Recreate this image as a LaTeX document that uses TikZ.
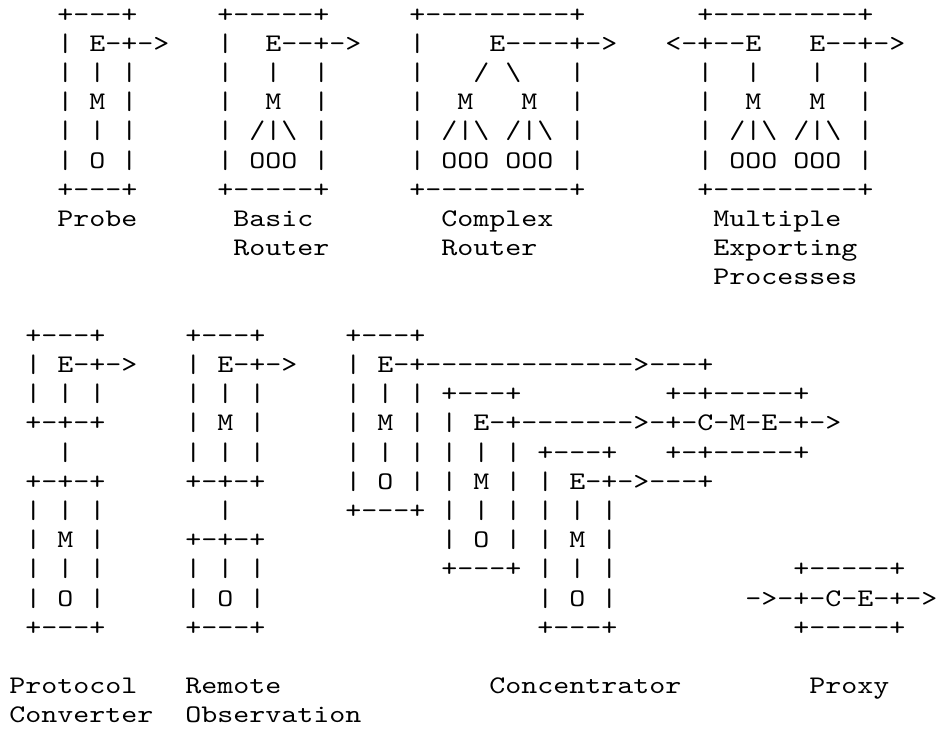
\documentclass[tikz,border=0pt]{standalone}
\usepackage{fontspec}
\usepackage{tikz}
\newfontfamily\asciifont{lmmono10-regular.otf}[FakeStretch=1.203,Ligatures=TeXOff]
\newcommand{\bs}{\textbackslash}

\begin{document}
\begin{tikzpicture}[x=12pt, y=-21.9pt,
    asc/.style={anchor=base west, inner sep=0pt, font={\asciifont\fontsize{19pt}{21.9pt}\selectfont}}]
		\useasboundingbox (-0.5625,-0.7534) rectangle (58,24.2123);
		% probe
		\node[asc] (pr1) at (3,0) {+---+};
		\node[asc] (pr2a) at (3,1) {|}; \node[asc] (pr2e) at (5,1) {E-+->};
		\node[asc] (pr3a) at (3,2) {|}; \node[asc] (pr3b) at (5,2) {|}; \node[asc] (pr3c) at (7,2) {|};
		\node[asc] (pr4a) at (3,3) {|}; \node[asc] (pr4m) at (5,3) {M}; \node[asc] (pr4b) at (7,3) {|};
		\node[asc] (pr5a) at (3,4) {|}; \node[asc] (pr5b) at (5,4) {|}; \node[asc] (pr5c) at (7,4) {|};
		\node[asc] (pr6a) at (3,5) {|}; \node[asc] (pr6o) at (5,5) {O}; \node[asc] (pr6b) at (7,5) {|};
		\node[asc] (pr7) at (3,6) {+---+};
		\node[asc] (prl) at (3,7) {Probe};
		% basic router
		\node[asc] (br1) at (13,0) {+-----+};
		\node[asc] (br2a) at (13,1) {|}; \node[asc] (br2e) at (16,1) {E--+->};
		\node[asc] (br3a) at (13,2) {|}; \node[asc] (br3b) at (16,2) {|}; \node[asc] (br3c) at (19,2) {|};
		\node[asc] (br4a) at (13,3) {|}; \node[asc] (br4m) at (16,3) {M}; \node[asc] (br4b) at (19,3) {|};
		\node[asc] (br5a) at (13,4) {|}; \node[asc] (br5m) at (15,4) {/|\bs}; \node[asc] (br5b) at (19,4) {|};
		\node[asc] (br6a) at (13,5) {|}; \node[asc] (br6o) at (15,5) {OOO}; \node[asc] (br6b) at (19,5) {|};
		\node[asc] (br7) at (13,6) {+-----+};
		\node[asc] (brl1) at (14,7) {Basic};
		\node[asc] (brl2) at (14,8) {Router};
		% complex router
		\node[asc] (cr1) at (25,0) {+---------+};
		\node[asc] (cr2a) at (25,1) {|}; \node[asc] (cr2e) at (30,1) {E----+->};
		\node[asc] (cr3a) at (25,2) {|}; \node[asc] (cr3l) at (29,2) {/}; \node[asc] (cr3r) at (31,2) {\bs}; \node[asc] (cr3b) at (35,2) {|};
		\node[asc] (cr4a) at (25,3) {|}; \node[asc] (cr4m) at (28,3) {M}; \node[asc] (cr4n) at (32,3) {M}; \node[asc] (cr4b) at (35,3) {|};
		\node[asc] (cr5a) at (25,4) {|}; \node[asc] (cr5m) at (27,4) {/|\bs}; \node[asc] (cr5n) at (31,4) {/|\bs}; \node[asc] (cr5b) at (35,4) {|};
		\node[asc] (cr6a) at (25,5) {|}; \node[asc] (cr6o) at (27,5) {OOO}; \node[asc] (cr6p) at (31,5) {OOO}; \node[asc] (cr6b) at (35,5) {|};
		\node[asc] (cr7) at (25,6) {+---------+};
		\node[asc] (crl1) at (27,7) {Complex};
		\node[asc] (crl2) at (27,8) {Router};
		% multiple exporting processes
		\node[asc] (mx1) at (43,0) {+---------+};
		\node[asc] (mx2e) at (41,1) {<-+--E}; \node[asc] (mx2f) at (50,1) {E--+->};
		\node[asc] (mx3a) at (43,2) {|}; \node[asc] (mx3b) at (46,2) {|}; \node[asc] (mx3c) at (50,2) {|}; \node[asc] (mx3d) at (53,2) {|};
		\node[asc] (mx4a) at (43,3) {|}; \node[asc] (mx4m) at (46,3) {M}; \node[asc] (mx4n) at (50,3) {M}; \node[asc] (mx4b) at (53,3) {|};
		\node[asc] (mx5a) at (43,4) {|}; \node[asc] (mx5m) at (45,4) {/|\bs}; \node[asc] (mx5n) at (49,4) {/|\bs}; \node[asc] (mx5b) at (53,4) {|};
		\node[asc] (mx6a) at (43,5) {|}; \node[asc] (mx6o) at (45,5) {OOO}; \node[asc] (mx6p) at (49,5) {OOO}; \node[asc] (mx6b) at (53,5) {|};
		\node[asc] (mx7) at (43,6) {+---------+};
		\node[asc] (mxl1) at (44,7) {Multiple};
		\node[asc] (mxl2) at (44,8) {Exporting};
		\node[asc] (mxl3) at (44,9) {Processes};
		% protocol converter
		\node[asc] (pc1) at (1,11) {+---+};
		\node[asc] (pc2a) at (1,12) {|}; \node[asc] (pc2e) at (3,12) {E-+->};
		\node[asc] (pc3a) at (1,13) {|}; \node[asc] (pc3b) at (3,13) {|}; \node[asc] (pc3c) at (5,13) {|};
		\node[asc] (pc4) at (1,14) {+-+-+};
		\node[asc] (pc5) at (3,15) {|};
		\node[asc] (pc6) at (1,16) {+-+-+};
		\node[asc] (pc7a) at (1,17) {|}; \node[asc] (pc7b) at (3,17) {|}; \node[asc] (pc7c) at (5,17) {|};
		\node[asc] (pc8a) at (1,18) {|}; \node[asc] (pc8m) at (3,18) {M}; \node[asc] (pc8b) at (5,18) {|};
		\node[asc] (pc9a) at (1,19) {|}; \node[asc] (pc9b) at (3,19) {|}; \node[asc] (pc9c) at (5,19) {|};
		\node[asc] (pc10a) at (1,20) {|}; \node[asc] (pc10o) at (3,20) {O}; \node[asc] (pc10b) at (5,20) {|};
		\node[asc] (pc11) at (1,21) {+---+};
		\node[asc] (pcl1) at (0,23) {Protocol};
		\node[asc] (pcl2) at (0,24) {Converter};
		% remote observation
		\node[asc] (ro1) at (11,11) {+---+};
		\node[asc] (ro2a) at (11,12) {|}; \node[asc] (ro2e) at (13,12) {E-+->};
		\node[asc] (ro3a) at (11,13) {|}; \node[asc] (ro3b) at (13,13) {|}; \node[asc] (ro3c) at (15,13) {|};
		\node[asc] (ro4a) at (11,14) {|}; \node[asc] (ro4m) at (13,14) {M}; \node[asc] (ro4b) at (15,14) {|};
		\node[asc] (ro5a) at (11,15) {|}; \node[asc] (ro5b) at (13,15) {|}; \node[asc] (ro5c) at (15,15) {|};
		\node[asc] (ro6) at (11,16) {+-+-+};
		\node[asc] (ro7) at (13,17) {|};
		\node[asc] (ro8) at (11,18) {+-+-+};
		\node[asc] (ro9a) at (11,19) {|}; \node[asc] (ro9b) at (13,19) {|}; \node[asc] (ro9c) at (15,19) {|};
		\node[asc] (ro10a) at (11,20) {|}; \node[asc] (ro10o) at (13,20) {O}; \node[asc] (ro10b) at (15,20) {|};
		\node[asc] (ro11) at (11,21) {+---+};
		\node[asc] (rol1) at (11,23) {Remote};
		\node[asc] (rol2) at (11,24) {Observation};
		% concentrator, first device
		\node[asc] (ca1) at (21,11) {+---+};
		\node[asc] (ca2a) at (21,12) {|}; \node[asc] (ca2e) at (23,12) {E-+------------->---+};
		\node[asc] (ca3a) at (21,13) {|}; \node[asc] (ca3b) at (23,13) {|}; \node[asc] (ca3c) at (25,13) {|};
		\node[asc] (ca4a) at (21,14) {|}; \node[asc] (ca4m) at (23,14) {M}; \node[asc] (ca4b) at (25,14) {|};
		\node[asc] (ca5a) at (21,15) {|}; \node[asc] (ca5b) at (23,15) {|}; \node[asc] (ca5c) at (25,15) {|};
		\node[asc] (ca6a) at (21,16) {|}; \node[asc] (ca6o) at (23,16) {O}; \node[asc] (ca6b) at (25,16) {|};
		\node[asc] (ca7) at (21,17) {+---+};
		% concentrator, second device
		\node[asc] (cb1) at (27,13) {+---+};
		\node[asc] (cb2a) at (27,14) {|}; \node[asc] (cb2e) at (29,14) {E-+------->-+-C-M-E-+->};
		\node[asc] (cb3a) at (27,15) {|}; \node[asc] (cb3b) at (29,15) {|}; \node[asc] (cb3c) at (31,15) {|};
		\node[asc] (cb4a) at (27,16) {|}; \node[asc] (cb4m) at (29,16) {M}; \node[asc] (cb4b) at (31,16) {|};
		\node[asc] (cb5a) at (27,17) {|}; \node[asc] (cb5b) at (29,17) {|}; \node[asc] (cb5c) at (31,17) {|};
		\node[asc] (cb6a) at (27,18) {|}; \node[asc] (cb6o) at (29,18) {O}; \node[asc] (cb6b) at (31,18) {|};
		\node[asc] (cb7) at (27,19) {+---+};
		% concentrator, third device
		\node[asc] (cc1) at (33,15) {+---+};
		\node[asc] (cc2a) at (33,16) {|}; \node[asc] (cc2e) at (35,16) {E-+->---+};
		\node[asc] (cc3a) at (33,17) {|}; \node[asc] (cc3b) at (35,17) {|}; \node[asc] (cc3c) at (37,17) {|};
		\node[asc] (cc4a) at (33,18) {|}; \node[asc] (cc4m) at (35,18) {M}; \node[asc] (cc4b) at (37,18) {|};
		\node[asc] (cc5a) at (33,19) {|}; \node[asc] (cc5b) at (35,19) {|}; \node[asc] (cc5c) at (37,19) {|};
		\node[asc] (cc6a) at (33,20) {|}; \node[asc] (cc6o) at (35,20) {O}; \node[asc] (cc6b) at (37,20) {|};
		\node[asc] (cc7) at (33,21) {+---+};
		% concentrator box
		\node[asc] (cm1) at (41,13) {+-+-----+};
		\node[asc] (cm3) at (41,15) {+-+-----+};
		\node[asc] (col) at (30,23) {Concentrator};
		% proxy
		\node[asc] (px1) at (49,19) {+-----+};
		\node[asc] (px2) at (46,20) {->-+-C-E-+->};
		\node[asc] (px3) at (49,21) {+-----+};
		\node[asc] (pxl) at (50,23) {Proxy};
	\end{tikzpicture}
\end{document}
